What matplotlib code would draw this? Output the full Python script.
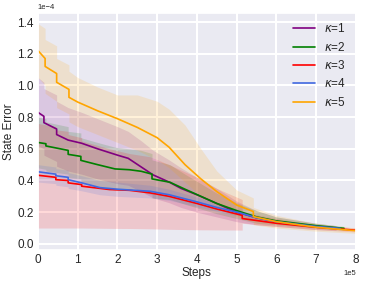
import numpy as np
import matplotlib
matplotlib.use('Agg')
import matplotlib.pyplot as plt
import seaborn as sns

sns.set_theme(style='darkgrid')
plt.rcParams['font.family'] = ['Liberation Sans', 'DejaVu Sans']

# x in units of 1e5 steps, y in units of 1e-4
k1_x = [0, 0.15, 0.15, 0.47, 0.47, 0.76, 1.1, 1.5, 2.0, 2.27, 2.6, 2.9, 3.3, 3.6, 4.0, 4.5, 5.0, 5.5, 6.0, 7.0, 7.5]
k1_y = [0.83, 0.805, 0.765, 0.725, 0.69, 0.655, 0.635, 0.60, 0.56, 0.54, 0.485, 0.435, 0.39, 0.35, 0.31, 0.255, 0.20, 0.165, 0.14, 0.11, 0.10]
k1_hi = [1.05, 1.02, 0.98, 0.94, 0.90, 0.86, 0.83, 0.79, 0.74, 0.71, 0.65, 0.59, 0.53, 0.48, 0.42, 0.35, 0.27, 0.21, 0.17, 0.13, 0.115]
k1_lo = [0.62, 0.60, 0.56, 0.52, 0.49, 0.46, 0.44, 0.41, 0.38, 0.37, 0.33, 0.29, 0.26, 0.23, 0.20, 0.17, 0.14, 0.12, 0.11, 0.09, 0.085]

k2_x = [0, 0.2, 0.2, 0.76, 0.76, 1.08, 1.08, 1.5, 1.94, 2.3, 2.6, 2.87, 2.87, 3.32, 3.7, 4.1, 4.5, 5.0, 5.5, 6.0, 7.0, 7.7]
k2_y = [0.64, 0.632, 0.618, 0.59, 0.565, 0.552, 0.527, 0.50, 0.473, 0.468, 0.458, 0.44, 0.41, 0.389, 0.345, 0.30, 0.255, 0.21, 0.17, 0.145, 0.115, 0.098]
k2_hi = [0.80, 0.79, 0.77, 0.74, 0.71, 0.70, 0.67, 0.64, 0.61, 0.60, 0.59, 0.57, 0.53, 0.50, 0.44, 0.38, 0.32, 0.26, 0.21, 0.17, 0.13, 0.11]
k2_lo = [0.48, 0.47, 0.46, 0.44, 0.42, 0.41, 0.39, 0.36, 0.34, 0.34, 0.33, 0.31, 0.29, 0.28, 0.25, 0.22, 0.19, 0.16, 0.13, 0.12, 0.10, 0.085]

k3_x = [0, 0.45, 0.45, 0.76, 0.76, 1.1, 1.1, 1.8, 2.3, 2.82, 3.3, 4.0, 4.5, 5.14, 5.14, 6.0, 7.0, 8.0]
k3_y = [0.433, 0.42, 0.405, 0.40, 0.385, 0.374, 0.364, 0.343, 0.338, 0.322, 0.30, 0.255, 0.22, 0.18, 0.16, 0.13, 0.105, 0.086]
k3_hi = [0.76, 0.74, 0.72, 0.71, 0.69, 0.67, 0.65, 0.60, 0.57, 0.55, 0.50, 0.42, 0.35, 0.28, 0.20, 0.16, 0.12, 0.10]
k3_lo = [0.10, 0.10, 0.10, 0.10, 0.10, 0.10, 0.10, 0.098, 0.097, 0.095, 0.092, 0.089, 0.088, 0.087, 0.13, 0.11, 0.09, 0.075]

k4_x = [0, 0.45, 0.45, 0.76, 0.76, 1.1, 1.56, 2.0, 2.82, 3.3, 4.0, 4.5, 5.08, 5.5, 6.0, 7.0, 7.6]
k4_y = [0.455, 0.44, 0.43, 0.42, 0.405, 0.385, 0.355, 0.345, 0.332, 0.31, 0.265, 0.23, 0.196, 0.165, 0.14, 0.11, 0.098]
k4_hi = [0.50, 0.485, 0.475, 0.465, 0.45, 0.43, 0.40, 0.39, 0.37, 0.345, 0.295, 0.255, 0.215, 0.18, 0.15, 0.12, 0.105]
k4_lo = [0.39, 0.38, 0.37, 0.36, 0.35, 0.335, 0.31, 0.30, 0.29, 0.275, 0.235, 0.205, 0.175, 0.15, 0.13, 0.10, 0.09]

k5_x = [0, 0.18, 0.18, 0.47, 0.47, 0.78, 0.78, 1.0, 1.5, 2.0, 2.5, 3.0, 3.3, 3.7, 4.1, 4.5, 5.0, 5.42, 5.42, 6.0, 7.0, 8.0]
k5_y = [1.22, 1.17, 1.12, 1.075, 1.02, 0.975, 0.925, 0.895, 0.84, 0.79, 0.735, 0.67, 0.61, 0.50, 0.41, 0.33, 0.245, 0.204, 0.172, 0.14, 0.105, 0.083]
k5_hi = [1.39, 1.36, 1.29, 1.25, 1.17, 1.13, 1.09, 1.05, 0.99, 0.94, 0.94, 0.90, 0.85, 0.75, 0.60, 0.46, 0.34, 0.29, 0.23, 0.18, 0.13, 0.10]
k5_lo = [1.05, 1.00, 0.95, 0.90, 0.86, 0.82, 0.77, 0.74, 0.69, 0.64, 0.59, 0.53, 0.48, 0.39, 0.30, 0.24, 0.17, 0.14, 0.12, 0.10, 0.08, 0.066]

labels = [r'$\kappa$=1', r'$\kappa$=2', r'$\kappa$=3', r'$\kappa$=4', r'$\kappa$=5']
colors = ['purple', 'green', 'red', 'royalblue', 'orange']

series = [
    (k1_x, k1_y, k1_lo, k1_hi),
    (k2_x, k2_y, k2_lo, k2_hi),
    (k3_x, k3_y, k3_lo, k3_hi),
    (k4_x, k4_y, k4_lo, k4_hi),
    (k5_x, k5_y, k5_lo, k5_hi),
]

fig, ax = plt.subplots(figsize=(3.65, 2.83), dpi=100)
fig.subplots_adjust(left=0.104, right=0.975, bottom=0.117, top=0.954)

for (x, y, lo, hi), lab, c in zip(series, labels, colors):
    x = np.array(x) * 1e5
    ax.fill_between(x, np.array(lo) * 1e-4, np.array(hi) * 1e-4, color=c, alpha=0.15, linewidth=0)
    ax.plot(x, np.array(y) * 1e-4, color=c, linewidth=1.2, label=lab)

ax.set_xlim(0, 8e5)
ax.set_ylim(-0.038e-4, 1.457e-4)
ax.set_yticks(np.arange(0, 1.41, 0.2) * 1e-4)
ax.ticklabel_format(axis='both', style='sci', scilimits=(0, 0))
ax.grid(color='white', linewidth=1.5)
ax.tick_params(labelsize=8.5, pad=3, length=0)
ax.xaxis.get_offset_text().set_fontsize(5.5)
ax.yaxis.get_offset_text().set_fontsize(5.5)
ax.set_xlabel('Steps', fontsize=8.5, labelpad=1)
ax.set_ylabel('State Error', fontsize=8.5, labelpad=2)

ax.legend(loc='upper right', frameon=False, fontsize=8.5, handlelength=1.9,
          labelspacing=0.45, borderaxespad=0.4)

fig.savefig('out.png', dpi=100)
